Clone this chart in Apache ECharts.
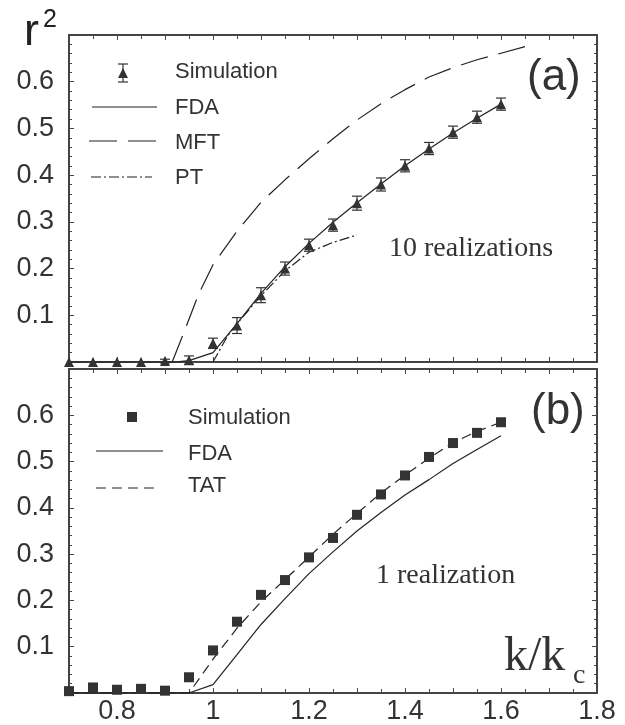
<!DOCTYPE html>
<html>
<head>
<meta charset="utf-8">
<script src="https://cdn.jsdelivr.net/npm/echarts@6/dist/echarts.min.js"></script>
<style>
	html, body { margin: 0; padding: 0; background: #fff; }
	#main { width: 625px; height: 725px; }
</style>
</head>
<body>
<div id="main"></div>
<script>
// (a) 10 realizations
var kSim = [0.7, 0.75, 0.8, 0.85, 0.9, 0.95, 1.0, 1.05, 1.1, 1.15, 1.2, 1.25, 1.3, 1.35, 1.4, 1.45, 1.5, 1.55, 1.6];
var simA = [0, 0, 0, 0, 0.002, 0.004, 0.040, 0.078, 0.143, 0.200, 0.250, 0.293, 0.340, 0.380, 0.420, 0.457, 0.492, 0.524, 0.552];
var errA = [0, 0, 0, 0, 0.004, 0.009, 0.011, 0.017, 0.016, 0.014, 0.013, 0.013, 0.015, 0.014, 0.013, 0.013, 0.013, 0.013, 0.013];

var kFdaA = [0.7, 0.92, 0.95, 1.0, 1.05, 1.1, 1.15, 1.2, 1.25, 1.3, 1.35, 1.4, 1.45, 1.5, 1.55, 1.6];
var fdaA = [0, 0, 0.003, 0.02, 0.082, 0.147, 0.204, 0.254, 0.299, 0.341, 0.381, 0.420, 0.456, 0.490, 0.522, 0.552];

var kMft = [0.915, 0.94, 0.97, 1.0, 1.05, 1.1, 1.15, 1.2, 1.25, 1.3, 1.35, 1.4, 1.45, 1.5, 1.55, 1.6, 1.65];
var mft = [0, 0.065, 0.145, 0.208, 0.28, 0.342, 0.39, 0.435, 0.478, 0.518, 0.553, 0.583, 0.61, 0.63, 0.647, 0.661, 0.675];

var kPt = [1.0, 1.03, 1.05, 1.1, 1.15, 1.2, 1.25, 1.3];
var pt = [0, 0.055, 0.082, 0.142, 0.195, 0.235, 0.256, 0.272];

// (b) 1 realization
var simB = [0.004, 0.012, 0.007, 0.009, 0.005, 0.034, 0.092, 0.154, 0.212, 0.244, 0.293, 0.335, 0.385, 0.429, 0.470, 0.510, 0.540, 0.562, 0.585];

var kFdaB = [0.7, 0.95, 1.0, 1.05, 1.1, 1.15, 1.2, 1.25, 1.3, 1.35, 1.4, 1.45, 1.5, 1.55, 1.6];
var fdaB = [0, 0, 0.018, 0.083, 0.148, 0.204, 0.258, 0.305, 0.350, 0.390, 0.428, 0.461, 0.496, 0.526, 0.556];

var kTat = [0.7, 0.95, 1.0, 1.05, 1.1, 1.15, 1.2, 1.25, 1.3, 1.35, 1.4, 1.45, 1.5, 1.55, 1.6];
var tat = [0, 0, 0.073, 0.14, 0.197, 0.245, 0.294, 0.343, 0.388, 0.432, 0.471, 0.507, 0.541, 0.565, 0.585];

var xTicks = ['0.8', '1', '1.2', '1.4', '1.6', '1.8'];
var yTicks = ['0.1', '0.2', '0.3', '0.4', '0.5', '0.6'];

var ink = '#333';
var sans = '"Liberation Sans", Arial, sans-serif';
var serif = '"Liberation Serif", "Times New Roman", serif';

var dashMft = [28, 11];
var dashPt = [10, 3, 2, 3];
var dashTat = [10, 6];

function zip(xs, ys) {
	return xs.map(function(x, i) {
		return [x, ys[i]];
	});
}

var errData = [];
kSim.forEach(function(k, i) {
	if (errA[i] > 0) {
		errData.push([k, simA[i] - errA[i], simA[i] + errA[i]]);
	}
});

function xAxisOf(grid, pos, labels) {
	return {
		type: 'value', gridIndex: grid, position: pos,
		min: 0.7, max: 1.8, interval: 0.1,
		axisLine: { onZero: false, lineStyle: { color: '#444', width: 2 } },
		axisTick: { inside: true, length: 5, lineStyle: { color: '#444', width: 1 } },
		minorTick: { show: true, splitNumber: 2, length: 4, lineStyle: { color: '#444', width: 1 } },
		splitLine: { show: false },
		axisLabel: {
			show: labels, margin: 5, color: ink, fontFamily: sans, fontSize: 27,
			formatter: function(v) {
				var s = String(Math.round(v * 10) / 10);
				return xTicks.indexOf(s) >= 0 ? s : '';
			}
		}
	};
}

function yAxisOf(grid, pos, labels) {
	return {
		type: 'value', gridIndex: grid, position: pos,
		min: 0, max: 0.7, interval: 0.1,
		axisLine: { onZero: false, lineStyle: { color: '#444', width: 2 } },
		axisTick: { inside: true, length: 5, lineStyle: { color: '#444', width: 1 } },
		minorTick: { show: true, splitNumber: 5, length: 3, lineStyle: { color: '#444', width: 1 } },
		splitLine: { show: false },
		axisLabel: {
			show: labels, margin: 15, color: ink, fontFamily: sans, fontSize: 27,
			formatter: function(v) {
				var s = (Math.round(v * 10) / 10).toFixed(1);
				return yTicks.indexOf(s) >= 0 ? s : '';
			}
		}
	};
}

function lineOf(name, xi, yi, data, dash) {
	return {
		name: name, type: 'line', xAxisIndex: xi, yAxisIndex: yi,
		data: data, symbol: 'none', silent: true, clip: false,
		lineStyle: { color: '#222', width: 1.2, type: dash },
		z: 3
	};
}

// legend drawn by hand: sample line + label
function keyLine(x1, x2, y, dash) {
	return { type: 'line', shape: { x1: x1, y1: y, x2: x2, y2: y }, style: { stroke: '#222', lineWidth: 1.2, lineDash: dash } };
}

function keyText(x, y, txt) {
	return { type: 'text', x: x, y: y, style: { text: txt, fill: ink, font: '22px ' + sans, verticalAlign: 'middle' } };
}

var chart = echarts.init(document.getElementById('main'));

var option = {
	animation: false,
	backgroundColor: '#fff',
	grid: [
		{ left: 69, top: 35, width: 528, height: 327 },
		{ left: 69, top: 369, width: 528, height: 326 }
	],
	xAxis: [
		xAxisOf(0, 'bottom', false),
		xAxisOf(0, 'top', false),
		xAxisOf(1, 'bottom', true),
		xAxisOf(1, 'top', false)
	],
	yAxis: [
		yAxisOf(0, 'left', true),
		yAxisOf(0, 'right', false),
		yAxisOf(1, 'left', true),
		yAxisOf(1, 'right', false)
	],
	series: [
		lineOf('FDA', 0, 0, zip(kFdaA, fdaA), 'solid'),
		lineOf('MFT', 0, 0, zip(kMft, mft), dashMft),
		lineOf('PT', 0, 0, zip(kPt, pt), dashPt),
		{
			name: 'error', type: 'custom', xAxisIndex: 0, yAxisIndex: 0,
			data: errData, clip: false, silent: true, z: 4,
			encode: { x: 0, y: [1, 2] },
			renderItem: function(params, api) {
				var top = api.coord([api.value(0), api.value(2)]);
				var bot = api.coord([api.value(0), api.value(1)]);
				var st = { stroke: ink, lineWidth: 1.2 };
				return {
					type: 'group',
					children: [
						{ type: 'line', shape: { x1: top[0], y1: top[1], x2: bot[0], y2: bot[1] }, style: st },
						{ type: 'line', shape: { x1: top[0] - 5, y1: top[1], x2: top[0] + 5, y2: top[1] }, style: st },
						{ type: 'line', shape: { x1: bot[0] - 5, y1: bot[1], x2: bot[0] + 5, y2: bot[1] }, style: st }
					]
				};
			}
		},
		{
			name: 'Simulation', type: 'scatter', xAxisIndex: 0, yAxisIndex: 0,
			data: zip(kSim, simA), symbol: 'triangle', symbolSize: 10,
			itemStyle: { color: ink, opacity: 1 }, clip: false, silent: true, z: 5
		},
		lineOf('FDA', 2, 2, zip(kFdaB, fdaB), 'solid'),
		lineOf('TAT', 2, 2, zip(kTat, tat), dashTat),
		{
			name: 'Simulation', type: 'scatter', xAxisIndex: 2, yAxisIndex: 2,
			data: zip(kSim, simB), symbol: 'rect', symbolSize: 10,
			itemStyle: { color: ink, opacity: 1 }, clip: false, silent: true, z: 5
		}
	],
	graphic: [
		// legend (a)
		{ type: 'polygon', shape: { points: [[123, 68], [118, 78], [128, 78]] }, style: { fill: ink } },
		{ type: 'line', shape: { x1: 123, y1: 64, x2: 123, y2: 82 }, style: { stroke: ink, lineWidth: 1.2 } },
		{ type: 'line', shape: { x1: 118, y1: 64, x2: 128, y2: 64 }, style: { stroke: ink, lineWidth: 1.2 } },
		{ type: 'line', shape: { x1: 118, y1: 82, x2: 128, y2: 82 }, style: { stroke: ink, lineWidth: 1.2 } },
		keyText(175, 72, 'Simulation'),
		keyLine(92, 157, 107, null),
		keyText(175, 108, 'FDA'),
		keyLine(89, 157, 141, dashMft),
		keyText(175, 143, 'MFT'),
		keyLine(91, 152, 177, dashPt),
		keyText(175, 178, 'PT'),
		// legend (b)
		{ type: 'rect', shape: { x: 127, y: 412, width: 10, height: 10 }, style: { fill: ink } },
		keyText(188, 418, 'Simulation'),
		keyLine(96, 163, 451, null),
		keyText(188, 454, 'FDA'),
		keyLine(96, 160, 488, dashTat),
		keyText(188, 486, 'TAT'),
		// y title r^2
		{ type: 'text', left: 24, top: 10, style: { text: 'r', fill: '#222', font: '45px ' + sans } },
		{ type: 'text', left: 43, top: 8, style: { text: '2', fill: '#222', font: '25px ' + sans } },
		// panel tags
		{ type: 'text', left: 527, top: 56, style: { text: '(a)', fill: ink, font: '44px ' + sans } },
		{ type: 'text', left: 531, top: 390, style: { text: '(b)', fill: ink, font: '44px ' + sans } },
		{ type: 'text', left: 389, top: 235, style: { text: '10 realizations', fill: ink, font: '28px ' + serif } },
		{ type: 'text', left: 376, top: 562, style: { text: '1 realization', fill: ink, font: '28px ' + serif } },
		// x title k/k_c
		{ type: 'text', left: 504, top: 633, style: { text: 'k/k', fill: ink, font: '48px ' + serif } },
		{ type: 'text', left: 573, top: 662, style: { text: 'c', fill: ink, font: '28px ' + serif } }
	]
};

chart.setOption(option);
</script>
</body>
</html>
